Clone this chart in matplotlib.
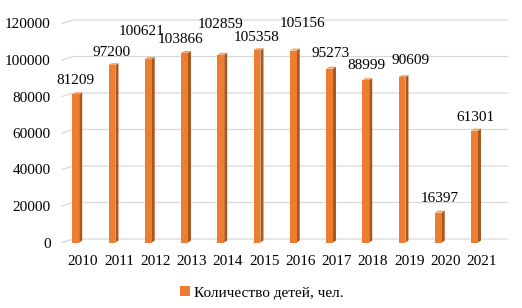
import matplotlib
matplotlib.use("Agg")
import matplotlib.pyplot as plt
from matplotlib.patches import Polygon, Patch
from matplotlib.lines import Line2D
import matplotlib.transforms as mtransforms
import numpy as np

# ---- data ----
years = ["2010", "2011", "2012", "2013", "2014", "2015",
         "2016", "2017", "2018", "2019", "2020", "2021"]
children = [81209, 97200, 100621, 103866, 102859, 105358,
            105156, 95273, 88999, 90609, 16397, 61301]
y_ticks = [0, 20000, 40000, 60000, 80000, 100000, 120000]
series_name = "Количество детей, чел."

# ---- style ----
label_offsets = [(0, 14), (0, 13), (-7, 27), (-3.5, 13), (0, 30), (0, 13),
                 (9, 27), (1, 15), (1, 15), (9, 17), (1, 14), (1, 13)]
FRONT = "#ED7D31"
SIDE = "#A9571C"
TOP = "#F4A36B"
GRID = "#D9D9D9"
DEPTH_X, DEPTH_Y = 11, 3.5     # back-wall offset in pixels
BAR_DX, BAR_DY = 3, 2          # bar side depth in pixels
plt.rcParams["font.family"] = ["Liberation Serif", "DejaVu Serif"]
plt.rcParams["font.size"] = 11

DPI = 100
fig = plt.figure(figsize=(5.22, 3.08), dpi=DPI)
W, H = 522, 308
ax = fig.add_axes([62 / W, 65.5 / H, 435 / W, 219 / H])
ax.set_xlim(-0.5, len(years) - 0.5)
ax.set_ylim(0, 120000)
for s in ax.spines.values():
    s.set_visible(False)
ax.patch.set_visible(False)

fig.canvas.draw()
td = ax.transData
ident = mtransforms.IdentityTransform()

# back-wall gridlines with left side slant
for v in y_ticks:
    p0 = td.transform((-0.5, v))
    p2 = td.transform((len(years) - 0.5, v))
    xs = [p0[0], p0[0] + DEPTH_X, p2[0] + DEPTH_X]
    ys = [p0[1], p0[1] + DEPTH_Y, p2[1] + DEPTH_Y]
    ax.add_line(Line2D(xs, ys, transform=ident, color=GRID, lw=0.9,
                       zorder=0.5, clip_on=False))

# bars
x = np.arange(len(years))
bar_w = 0.19
shift = -0.12
ax.bar(x + shift, children, width=bar_w, color=FRONT, zorder=3, linewidth=0)
for xi, v in zip(x, children):
    xl = xi + shift - bar_w / 2
    xr = xi + shift + bar_w / 2
    br = td.transform((xr, 0))
    tl = td.transform((xl, v)); tr = td.transform((xr, v))
    side = [br, tr, tr + [BAR_DX, BAR_DY], br + [BAR_DX, BAR_DY]]
    top = [tl, tr, tr + [BAR_DX, BAR_DY], tl + [BAR_DX, BAR_DY]]
    ax.add_patch(Polygon(side, closed=True, transform=ident, facecolor=SIDE,
                         edgecolor="none", zorder=2.9, clip_on=False))
    ax.add_patch(Polygon(top, closed=True, transform=ident, facecolor=TOP,
                         edgecolor="none", zorder=2.9, clip_on=False))

# value labels
for xi, v, (dx, dy) in zip(x, children, label_offsets):
    ax.annotate(str(v), xy=(xi + shift, v), xytext=(dx, dy),
                textcoords="offset pixels", ha="center", va="center",
                fontsize=11, color="black", zorder=5)

# ticks
ax.set_yticks(y_ticks)
ax.set_yticklabels([str(t) for t in y_ticks])
ax.set_xticks(x)
ax.set_xticklabels(years)
ax.tick_params(axis="both", length=0, labelsize=11, colors="black")
ax.tick_params(axis="y", pad=8)
ax.tick_params(axis="x", pad=9)
off = mtransforms.ScaledTranslation(2 / 72, 0, fig.dpi_scale_trans)
for lab in ax.get_xticklabels():
    lab.set_transform(lab.get_transform() + off)

# legend
handle = Patch(facecolor=FRONT, edgecolor="none")
fig.legend([handle], [series_name], loc="center",
           bbox_to_anchor=(262 / W, 15 / H), frameon=False,
           handlelength=0.6, handleheight=0.6, handletextpad=0.3,
           fontsize=11)

fig.savefig("out.png", dpi=DPI)
